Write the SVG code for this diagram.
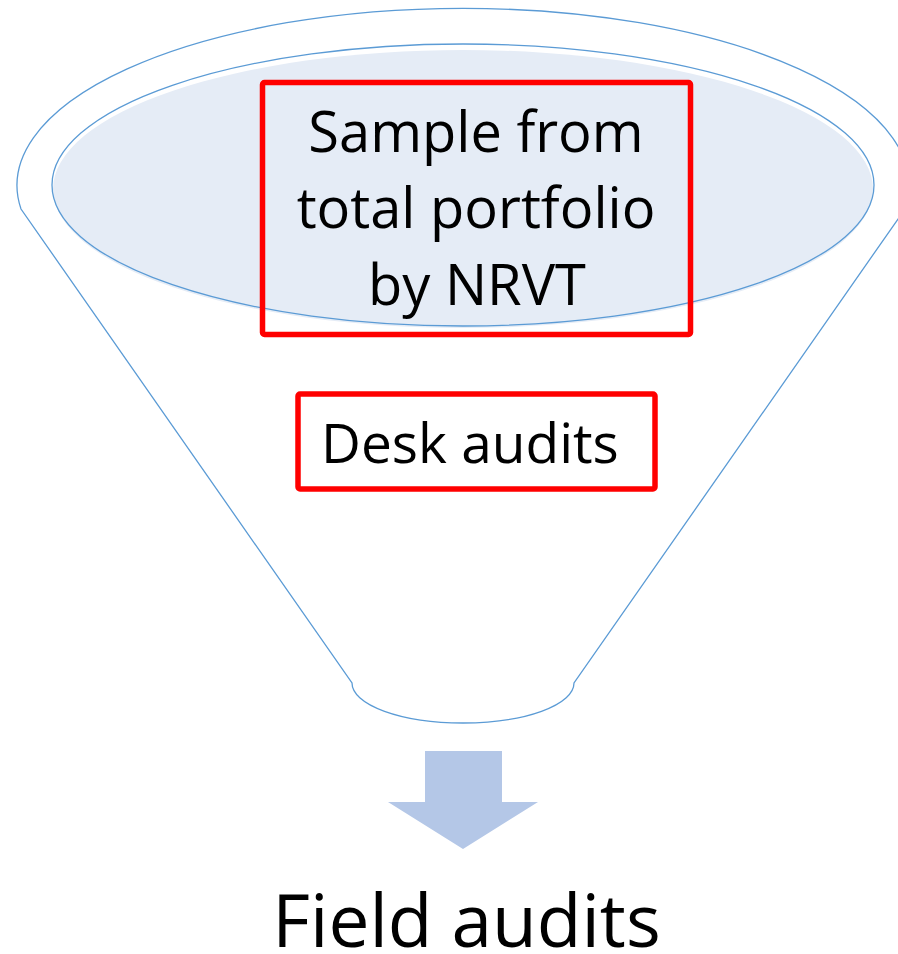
<svg xmlns="http://www.w3.org/2000/svg" width="898" height="954" viewBox="0 0 898 954">
  <style>
    .outline { fill: none; stroke: #5B9BD5; stroke-width: 1.3; }
    .box { fill: none; stroke: #FF0000; stroke-width: 5.5; }
    .label { font-family: "Open Sans", "Liberation Sans", sans-serif; fill: #000000; }
  </style>
  <rect width="898" height="954" fill="#FFFFFF"/>

  <!-- funnel body: outer rim, tapering sides and rounded spout -->
  <g id="funnel">
    <path class="outline" d="M21,209 A446,177 0 1 1 905,209 L574,683 A111,40 0 0 1 352,683 Z"/>
    <!-- inner mouth of the funnel -->
    <ellipse cx="463" cy="189" rx="410" ry="139" fill="#E5ECF6"/>
    <ellipse class="outline" cx="463" cy="185" rx="411" ry="141"/>
  </g>

  <g id="node-sample">
    <rect class="box" x="262.5" y="82.5" width="428" height="252" rx="2"/>
    <text class="label" font-size="56" text-anchor="middle"><tspan x="476" y="152">Sample from</tspan><tspan x="476" y="228">total portfolio</tspan><tspan x="477" y="305">by NRVT</tspan></text>
  </g>

  <g id="node-desk">
    <rect class="box" x="298" y="394" width="357" height="95" rx="2"/>
    <text class="label" font-size="55" x="321" y="463">Desk audits</text>
  </g>

  <g id="connectors">
    <polygon points="425,751 502,751 502,802 538,802 463,849 388,802 425,802" fill="#B4C7E7"/>
  </g>

  <g id="node-field">
    <text class="label" font-size="73" text-anchor="middle" x="466.5" y="947">Field audits</text>
  </g>
</svg>
